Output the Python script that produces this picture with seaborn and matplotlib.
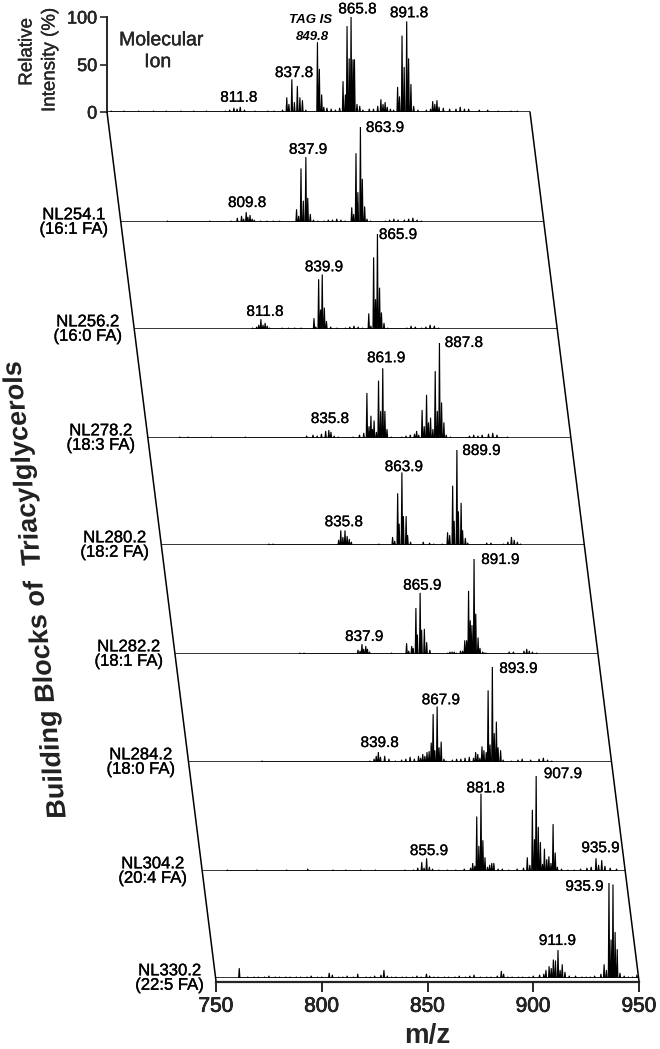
import numpy as np
import pandas as pd
import matplotlib
matplotlib.use("Agg")
import matplotlib.pyplot as plt
import matplotlib.patheffects as pe
from matplotlib.lines import Line2D
from matplotlib.transforms import Affine2D
import seaborn as sns

# peak lists (m/z, relative intensity)
mz_mol = [752, 758, 765, 772, 778, 785, 791, 797, 806, 808, 810, 811.5, 813, 815, 820, 826, 829,
          833, 835, 836, 837.4, 838.6, 840, 841.2, 842.4, 844, 849.5, 850.4, 851.5, 852.5, 854, 856, 858, 860,
          861.6, 862.7, 863.5, 864.5, 865.4, 866.3, 867, 868.2, 869.5, 871, 874, 876, 878, 879.5, 880.5, 881.5, 882.5, 884, 885.5,
          887.4, 888.3, 889.5, 890.5, 891.7, 892.6, 893.7, 895, 897, 901, 903, 904, 905, 906, 907, 909, 912, 915, 917, 919, 921, 926, 930, 935, 941, 944]
int_mol = [1, 1, 1, 1, 1, 1, 1, 1, 1, 2, 4, 3, 5, 2, 1, 1, 1,
           2, 15, 8, 34, 10, 27, 15, 12, 2, 73, 45, 18, 5, 4, 3, 2, 4,
           32, 18, 90, 56, 100, 55, 55, 8, 6, 2, 3, 3, 6, 13, 8, 10, 5, 3, 2,
           26, 16, 80, 47, 95, 56, 29, 6, 2, 2, 3, 11, 8, 12, 5, 4, 3, 3, 5, 3, 3, 2, 2, 1, 1, 1]

mz_254 = [772, 792, 802, 805, 807, 808, 809.2, 810, 811, 812, 813, 816, 819, 822, 825,
          833, 834, 835.1, 836.2, 837.4, 838.3, 839.5, 841, 843, 846, 848, 850, 852, 854, 856,
          859.1, 860, 861.1, 862, 863.2, 864.1, 865.2, 866.3, 868, 875, 877, 879, 881, 884, 886, 888, 890, 892]
int_254 = [1, 1, 1, 4, 6, 3, 10, 5, 7, 3, 2, 1, 1, 1, 1,
           13, 6, 56, 22, 68, 25, 8, 2, 1, 1, 2, 2, 3, 2, 1,
           15, 8, 72, 31, 100, 45, 16, 3, 1, 1, 2, 3, 2, 2, 3, 4, 2, 1]

mz_256 = [806, 808, 809, 810, 811, 812, 813, 814, 820, 823, 826, 829,
          835.1, 836, 837.3, 838.2, 839, 840, 841, 843, 846, 850, 852, 854, 856, 858,
          861, 862, 863.3, 864.2, 865.1, 866.1, 867, 868.2, 870, 879, 881, 883, 886, 888, 890, 892, 894]
int_256 = [1, 2, 4, 10, 4, 6, 3, 1, 1, 1, 1, 1,
           11, 2, 52, 20, 57, 22, 8, 2, 1, 1, 2, 3, 2, 1,
           16, 3, 75, 31, 100, 43, 17, 6, 1, 1, 3, 2, 1, 2, 4, 3, 1]

mz_278 = [765, 769, 780, 796, 825, 828, 830, 832, 834, 835.5, 836.5, 838, 840,
          847, 850, 852, 853.5, 854.5, 855.4, 856.1, 856.9, 858, 859, 860, 861, 862, 863, 865, 870, 872, 874, 876, 877, 878,
          879.6, 880.6, 881.7, 882.6, 883.6, 884.7, 885.8, 886.8, 887.8, 888.8, 889.9, 891, 893, 902, 904, 906, 908, 911, 913, 915, 920]
int_278 = [1, 1, 1, 1, 2, 3, 2, 4, 7, 8, 6, 2, 1,
           1, 3, 5, 47, 12, 23, 9, 18, 6, 60, 28, 73, 28, 9, 1, 1, 2, 3, 4, 7, 3,
           29, 12, 45, 16, 21, 9, 70, 28, 100, 37, 16, 3, 1, 2, 3, 2, 3, 4, 5, 3, 1]

mz_280 = [801, 803, 834, 835, 836, 837, 838, 839, 840, 853, 859.5, 860.5, 861.9, 862.6, 863.9, 864.6, 865.9, 866.6, 868, 874, 877, 879,
          883, 885.5, 886.5, 887.9, 888.6, 889.9, 890.6, 891.9, 892.6, 893.9, 895, 904, 906, 912, 914, 915.7, 917, 918.5, 920]
int_280 = [1, 1, 5, 15, 8, 15, 9, 6, 3, 1, 8, 4, 54, 22, 76, 30, 30, 10, 3, 3, 2, 1,
           1, 13, 10, 62, 25, 100, 35, 44, 15, 7, 2, 2, 2, 1, 3, 8, 5, 3, 1]

mz_282 = [809, 811, 836.5, 837.5, 838.4, 839.2, 840.2, 841, 842, 852.4,
          859.5, 860.5, 861.9, 862.6, 863.9, 864.6, 865.9, 866.6, 867.9, 869, 870.5,
          879, 880, 881, 882, 883, 885, 886, 887, 887.9, 888.8, 889.6, 890.4, 891.4, 892.2, 893.3, 894.2, 895.5, 896.2, 897,
          908, 910, 915, 916.3, 917.5, 919, 921]
int_282 = [1, 1, 4, 3, 10, 5, 8, 5, 2, 1,
           11, 3, 8, 6, 48, 20, 64, 25, 26, 12, 4,
           1, 2, 2, 2, 1, 3, 3, 14, 14, 66, 35, 30, 100, 42, 17, 6, 2, 1, 1,
           2, 2, 3, 5, 3, 2, 1]

mz_284 = [785, 836, 838, 839, 840, 841, 843, 845, 848, 851, 853, 855, 857, 859, 860, 861, 862, 863, 864,
          865, 865.9, 866.7, 867.8, 868.7, 869.7, 871, 872, 875, 877, 879, 881, 883, 885, 886, 887, 888, 889, 889.9, 891, 891.9, 892.8, 893.9, 894.8, 895.8, 896.6, 897.8, 899,
          903, 906, 908, 912, 916, 918, 920, 922]
int_284 = [1, 1, 3, 6, 10, 5, 6, 3, 1, 2, 3, 5, 3, 6, 4, 8, 6, 10, 11,
           20, 50, 12, 58, 15, 21, 3, 1, 2, 3, 3, 4, 5, 4, 10, 8, 4, 16, 12, 10, 75, 18, 100, 30, 42, 15, 12, 2,
           1, 2, 3, 2, 3, 4, 2, 1]

mz_304 = [762, 776, 790, 800, 812, 818, 825, 832, 846, 850, 852, 853.9, 855, 856.2, 857.5, 859, 862, 866, 870, 874, 877,
          878, 879, 879.9, 880.9, 881.9, 882.8, 883.8, 885, 886, 887, 888, 890, 892, 895, 899, 902,
          903.8, 905, 906.2, 907.2, 908, 909, 910, 911, 911.9, 913, 914, 915, 916, 917, 918, 920, 923, 926, 929,
          932, 934, 936.3, 937.5, 939, 940.5, 943, 946]
int_304 = [1, 1, 1, 2, 1, 1, 1, 1, 1, 1, 3, 9, 3, 13, 4, 2, 1, 1, 1, 2, 3,
           8, 5, 57, 26, 81, 32, 14, 4, 6, 8, 8, 2, 2, 1, 2, 3,
           14, 6, 64, 33, 100, 46, 30, 7, 23, 12, 15, 8, 49, 19, 4, 2, 1, 1, 2,
           3, 4, 13, 6, 11, 5, 3, 2]

mz_330 = [761, 765, 768, 770, 773, 775, 778, 780, 783, 785, 788, 790, 793, 795, 798, 800, 803.5, 805, 808, 810, 812, 815, 817, 821, 823, 825, 828, 829.4, 831, 833, 835, 838, 840, 843, 845, 847, 849.5, 851,
          853, 855, 858, 860, 863, 865, 868, 870, 872, 875, 878, 880, 883, 884.9, 886, 888, 890, 893, 895, 898, 900, 903, 905, 906, 907.5, 908.5, 909.5, 910.5, 911.7, 912.7, 913.7, 915, 917, 920, 923, 925, 927, 929,
          932, 933.5, 934.6, 935.8, 936.8, 937.7, 938.7, 939.7, 941, 943, 945, 947, 949]
int_330 = [10, 1, 1, 1, 1, 2, 1, 1, 1, 1, 1, 1, 1, 2, 1, 1, 5, 3, 1, 1, 2, 1, 4, 1, 1, 2, 3, 8, 2, 1, 1, 1, 1, 1, 2, 1, 4, 2,
           1, 1, 1, 1, 1, 2, 1, 2, 3, 1, 1, 1, 2, 7, 4, 1, 1, 1, 1, 1, 2, 3, 4, 8, 12, 10, 19, 18, 29, 8, 14, 6, 2, 2, 1, 1, 1, 2,
           4, 14, 8, 100, 40, 98, 48, 30, 5, 2, 1, 1, 3]

mz_lists = [mz_mol, mz_254, mz_256, mz_278, mz_280, mz_282, mz_284, mz_304, mz_330]
int_lists = [int_mol, int_254, int_256, int_278, int_280, int_282, int_284, int_304, int_330]

panel_names = [None, "NL254.1\n(16:1 FA)", "NL256.2\n(16:0 FA)", "NL278.2\n(18:3 FA)", "NL280.2\n(18:2 FA)",
               "NL282.2\n(18:1 FA)", "NL284.2\n(18:0 FA)", "NL304.2\n(20:4 FA)", "NL330.2\n(22:5 FA)"]

# peak labels: text, anchor m/z, anchor height
peak_text = [["811.8", "837.8", "865.8", "891.8"], ["809.8", "837.9", "863.9"], ["811.8", "839.9", "865.9"],
             ["835.8", "861.9", "887.8"], ["835.8", "863.9", "889.9"], ["837.9", "865.9", "891.9"],
             ["839.8", "867.9", "893.9"], ["855.9", "881.8", "907.9", "935.9"], ["911.9", "935.9"]]
peak_x = [[812.3, 838.4, 868.4, 892.8], [809.6, 838.4, 874.8], [811.9, 839.8, 874.8],
          [836, 862.6, 899.3], [836.4, 864.8, 901.5], [839.4, 866.9, 903.8],
          [840.6, 869.5, 906.2], [857.3, 884.1, 920.6, 938.4], [911.4, 924.2]]
peak_y = [[15, 41, 108, 104], [20, 76, 99], [18, 65, 99],
          [20, 84, 100], [24, 82, 99], [18, 72, 99],
          [20, 65, 98], [21, 87, 102, 24], [39, 96]]

# panel layout in pixels of the 660x1049 picture
W, H = 660, 1049
panel_left = [107, 121, 134, 148, 161, 175, 188, 202, 216]
panel_base = [112, 222, 329, 438, 545, 654, 762, 871, 978]
panel_w = 423
panel_h = 95
name_gap = [0, 13, 12, 13, 12, 12, 13, 15, 12]

sns.set_style("white")
plt.rcParams['font.family'] = ['Liberation Sans', 'DejaVu Sans']

fig = plt.figure(figsize=(W / 100, H / 100), dpi=100)


class Shear(pe.AbstractPathEffect):
    # the y axis title is sheared in the original, not rotated
    def __init__(self, k, x0, y0):
        super().__init__()
        self.mat = Affine2D().translate(-x0, -y0) + Affine2D([[1, k, 0], [0, 1, 0], [0, 0, 1]]) + Affine2D().translate(x0, y0)

    def draw_path(self, renderer, gc, tpath, affine, rgbFace=None):
        renderer.draw_path(gc, tpath, affine + self.mat, rgbFace)


def heavy(w):
    return [pe.withStroke(linewidth=w, foreground="black")]


def sticks(mz, intensity):
    # each peak as a thin spike back to the baseline
    rows = []
    for m, h in zip(mz, intensity):
        rows += [(m - 0.3, 0), (m, h), (m + 0.3, 0)]
    return pd.DataFrame(rows, columns=["mz", "intensity"])


for i in range(len(mz_lists)):
    ax = fig.add_axes([panel_left[i] / W, 1 - panel_base[i] / H, panel_w / W, panel_h / H])
    ax.patch.set_alpha(0)
    df = sticks(mz_lists[i], int_lists[i])
    sns.lineplot(data=df, x="mz", y="intensity", color="black", lw=0.85,
                 estimator=None, sort=False, errorbar=None, ax=ax)
    ax.axhline(0, color="black", lw=1.1)
    ax.set_xlim(750, 950)
    ax.set_ylim(0, 100)
    ax.set_xlabel("")
    ax.set_ylabel("")
    sns.despine(ax=ax, left=True, bottom=True)
    ax.set_xticks([])
    ax.set_yticks([])
    for t, x, y in zip(peak_text[i], peak_x[i], peak_y[i]):
        ax.text(x, y, t, ha="center", va="center", fontsize=11, color="black", clip_on=False,
                path_effects=heavy(0.2))
    if panel_names[i]:
        ax.text(750 - name_gap[i] / 2.115, 0, panel_names[i], ha="right", va="center", multialignment="center",
                fontsize=12, linespacing=0.95, color="black", clip_on=False, path_effects=heavy(0.25))
    if i == 0:
        ax.spines["left"].set_visible(True)
        ax.spines["left"].set_linewidth(1.4)
        ax.set_yticks([0, 50, 100])
        ax.set_yticklabels(["0", "50", "100"], fontsize=13, path_effects=heavy(0.35))
        ax.tick_params(axis="y", left=True, length=5, width=1.2, pad=2)
        ax.text(775.8, 75, "Molecular", ha="center", va="center", fontsize=14, path_effects=heavy(0.25))
        ax.text(774, 52, "Ion", ha="center", va="center", fontsize=14, path_effects=heavy(0.25))
        ax.text(846.2, 97, "TAG IS", ha="center", va="center", fontsize=9.5, style="italic", weight="bold", color="black")
        ax.text(847, 79, "849.8", ha="center", va="center", fontsize=9.5, style="italic", weight="bold", color="black")
    if i == len(mz_lists) - 1:
        ax.spines["bottom"].set_visible(True)
        ax.spines["bottom"].set_linewidth(1.6)
        ax.spines["bottom"].set_position(("outward", 3))
        ax.set_xticks([750, 800, 850, 900, 950])
        ax.tick_params(axis="x", bottom=True, length=7.5, width=1.4, pad=3, labelsize=15)
        for lab in ax.get_xticklabels():
            lab.set_path_effects(heavy(0.5))
        ax.set_xlabel("m/z", fontsize=20, weight="bold", labelpad=5)

# slanted side walls of the stack
for off in [0, panel_w]:
    fig.add_artist(Line2D([(panel_left[0] + off) / W, (panel_left[-1] + off) / W],
                          [1 - panel_base[0] / H, 1 - (panel_base[-1] + 3) / H],
                          color="black", lw=1.1))

fig.text(27 / W, 1 - 52 / H, "Relative", rotation=90, ha="center", va="center", fontsize=13.5, path_effects=heavy(0.2))
fig.text(50 / W, 1 - 60 / H, "Intensity (%)", rotation=90, ha="center", va="center", fontsize=13.5, path_effects=heavy(0.2))
fig.text(36 / W, 1 - 590 / H, "Building Blocks of  Triacylglycerols", rotation=90,
         ha="center", va="center", fontsize=19.5, weight="bold", color="#222222",
         path_effects=[Shear(-0.1, 36, H - 590)])

fig.savefig("out.png", dpi=100)
